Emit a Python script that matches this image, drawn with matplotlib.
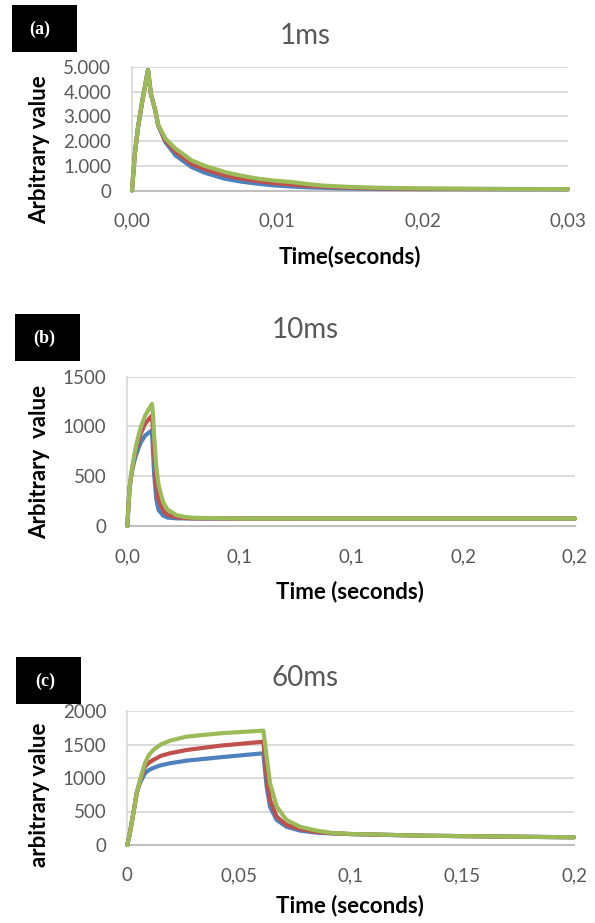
import matplotlib
matplotlib.use("Agg")
import matplotlib.pyplot as plt
from matplotlib.patches import Rectangle

# ---------------- data ----------------
# (a) 1 ms pulse
t_a = [0, 0.0002, 0.0004, 0.0007, 0.0011, 0.0013, 0.0016, 0.0018, 0.0023, 0.003,
       0.0041, 0.005, 0.0064, 0.0075, 0.0087, 0.0098, 0.011, 0.012, 0.0131, 0.015,
       0.017, 0.02, 0.025, 0.03]
a_blue = [0, 1500, 2500, 3600, 4880, 3900, 3250, 2640, 1960, 1420,
          950, 720, 475, 360, 270, 205, 160, 130, 110, 80,
          65, 55, 55, 55]
a_red = [0, 1500, 2500, 3600, 4880, 3900, 3250, 2640, 2020, 1560,
         1080, 860, 610, 485, 380, 300, 240, 195, 160, 115,
         85, 65, 58, 55]
a_green = [0, 1500, 2500, 3600, 4880, 3900, 3250, 2660, 2100, 1690,
           1220, 1000, 745, 600, 475, 400, 340, 265, 200, 145,
           110, 85, 65, 55]

# (b) 10 ms pulse
t_b = [0, 0.001, 0.002, 0.003, 0.004, 0.006, 0.008, 0.011, 0.0115, 0.012,
       0.013, 0.014, 0.016, 0.018, 0.022, 0.026, 0.03, 0.05, 0.1, 0.15, 0.2]
b_blue = [0, 380, 540, 640, 720, 840, 910, 960, 740, 520,
          260, 160, 105, 85, 77, 76, 75, 75, 75, 75, 75]
b_red = [0, 380, 550, 680, 780, 930, 1030, 1110, 940, 720,
         400, 260, 155, 112, 88, 80, 77, 75, 75, 75, 75]
b_green = [0, 380, 560, 700, 820, 990, 1110, 1227, 1120, 900,
           580, 410, 240, 165, 108, 90, 82, 76, 75, 75, 75]

# (c) 60 ms pulse
t_c = [0, 0.001, 0.0027, 0.0042, 0.0057, 0.0079, 0.0095, 0.0116, 0.015, 0.0191,
       0.0265, 0.0415, 0.0609, 0.0624, 0.0639, 0.0669, 0.0713, 0.0773, 0.0848, 0.0922,
       0.1, 0.1325, 0.17, 0.2]
c_blue = [0, 150, 473, 772, 930, 1070, 1115, 1150, 1190, 1220,
          1259, 1309, 1369, 870, 572, 373, 273, 215, 184, 172,
          163, 139, 125, 115]
c_red = [0, 150, 473, 772, 960, 1170, 1225, 1269, 1330, 1369,
         1418, 1482, 1542, 1020, 672, 423, 299, 240, 194, 175,
         163, 139, 125, 115]
c_green = [0, 150, 473, 772, 970, 1220, 1335, 1418, 1500, 1557,
           1617, 1667, 1707, 1318, 921, 572, 373, 273, 214, 178,
           165, 139, 125, 115]

titles = ["1ms", "10ms", "60ms"]
panel_tags = ["(a)", "(b)", "(c)"]
ylabels = ["Arbitrary value", "Arbitrary  value", "arbitrary value"]
xlabels = ["Time(seconds)", "Time (seconds)", "Time (seconds)"]

xticks_a = [0, 0.01, 0.02, 0.03]
xticklabels_a = ["0,00", "0,01", "0,02", "0,03"]
yticks_a = [0, 1000, 2000, 3000, 4000, 5000]
yticklabels_a = ["0", "1.000", "2.000", "3.000", "4.000", "5.000"]

xticks_b = [0, 0.05, 0.1, 0.15, 0.2]
xticklabels_b = ["0,0", "0,1", "0,1", "0,2", "0,2"]
yticks_b = [0, 500, 1000, 1500]
yticklabels_b = ["0", "500", "1000", "1500"]

xticks_c = [0, 0.05, 0.1, 0.15, 0.2]
xticklabels_c = ["0", "0,05", "0,1", "0,15", "0,2"]
yticks_c = [0, 500, 1000, 1500, 2000]
yticklabels_c = ["0", "500", "1000", "1500", "2000"]

# ---------------- style ----------------
W, H = 595, 923
BLUE, RED, GREEN = "#4F81BD", "#C0504D", "#9BBB59"
GREY_TXT = "#595959"
FONT = ["Lato", "DejaVu Sans"]
plt.rcParams["font.family"] = FONT

fig = plt.figure(figsize=(W / 100, H / 100), dpi=100)


def fx(x):
    return x / W


def fy(y):
    return 1 - y / H


# axes boxes in pixel coords: left, top, right, bottom
boxes = [(132, 67, 568, 190.5), (127.3, 376.7, 575, 526), (127.3, 711, 574, 845)]
series = [
    (t_a, a_blue, a_red, a_green, xticks_a, xticklabels_a, yticks_a, yticklabels_a),
    (t_b, b_blue, b_red, b_green, xticks_b, xticklabels_b, yticks_b, yticklabels_b),
    (t_c, c_blue, c_red, c_green, xticks_c, xticklabels_c, yticks_c, yticklabels_c),
]
title_base = [44, 338, 686]
tag_boxes = [(12, 5, 77, 52), (15, 314, 80, 361), (16, 657, 81, 704)]
tag_text = [(40, 29), (44, 338), (45, 681)]
ylabel_pos = [(40, 150), (40, 462), (40, 795)]
xlabel_pos = [(350, 257), (350, 592), (350, 906)]

for i in range(3):
    l, t, r, b = boxes[i]
    ax = fig.add_axes([fx(l), fy(b), fx(r) - fx(l), (b - t) / H])
    tt, yb, yr, yg, xt, xtl, yt, ytl = series[i]
    for yv, col in ((yb, BLUE), (yr, RED), (yg, GREEN)):
        ax.plot(tt, yv, color=col, lw=3.0, solid_joinstyle="round",
                solid_capstyle="round", clip_on=False, zorder=3)
    ax.set_xlim(xt[0], xt[-1])
    ax.set_ylim(yt[0], yt[-1])
    ax.set_xticks(xt)
    ax.set_xticklabels(xtl)
    ax.set_yticks(yt)
    ax.set_yticklabels(ytl)
    ax.tick_params(axis="both", length=0, labelsize=13.5, labelcolor=GREY_TXT)
    ax.tick_params(axis="x", pad=16)
    ax.tick_params(axis="y", pad=15)
    ax.grid(axis="y", color="#D9D9D9", lw=1.3, zorder=0)
    ax.set_axisbelow(True)
    for s in ("top", "right"):
        ax.spines[s].set_visible(False)
    ax.spines["bottom"].set_color("#BFBFBF")
    ax.spines["bottom"].set_linewidth(1.5)
    ax.spines["left"].set_color("#D9D9D9")
    ax.spines["left"].set_linewidth(1.3)

    # title
    fig.text(fx(305), fy(title_base[i]), titles[i], ha="center", va="baseline",
             fontsize=20, color=GREY_TXT)
    # black tag box
    bl, bt, br, bb = tag_boxes[i]
    fig.patches.append(Rectangle((fx(bl), fy(bb)), fx(br) - fx(bl), (bb - bt) / H,
                                 transform=fig.transFigure, facecolor="black",
                                 edgecolor="none"))
    fig.text(fx(tag_text[i][0]), fy(tag_text[i][1]), panel_tags[i], ha="center",
             va="center", color="white", fontsize=13, fontweight="bold",
             family=["Liberation Serif", "DejaVu Serif"])
    # axis labels
    fig.text(fx(ylabel_pos[i][0]), fy(ylabel_pos[i][1]), ylabels[i], rotation=90,
             ha="center", va="center", fontsize=16, fontweight="bold", color="black")
    fig.text(fx(xlabel_pos[i][0]), fy(xlabel_pos[i][1]), xlabels[i],
             ha="center", va="center", fontsize=16, fontweight="bold", color="black")

fig.savefig("out.png", dpi=100)
